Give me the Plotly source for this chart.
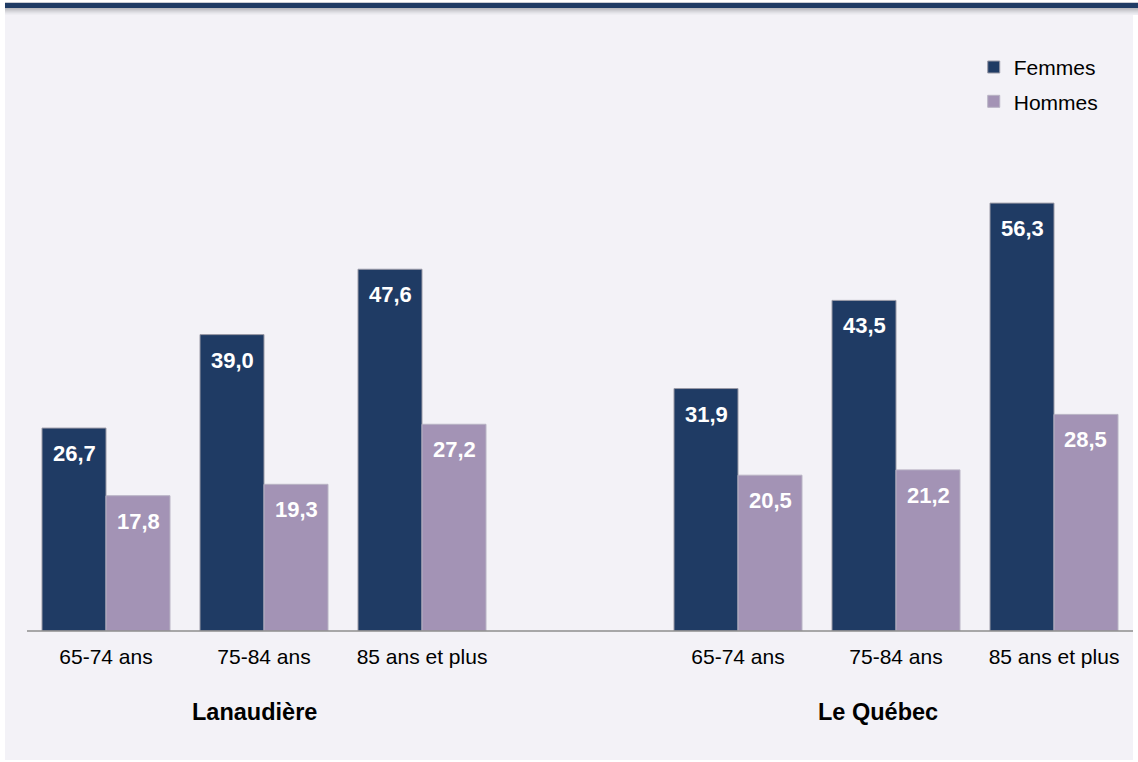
import plotly.graph_objects as go

# categories (middle slot left empty to separate the two regions)
categories = ["65-74 ans", "75-84 ans", "85 ans et plus", "",
              "65-74 ans", "75-84 ans", "85 ans et plus"]
femmes = [26.7, 39.0, 47.6, None, 31.9, 43.5, 56.3]
hommes = [17.8, 19.3, 27.2, None, 20.5, 21.2, 28.5]
regions = ["Lanaudière", "Le Québec"]

navy = "#1F3B64"
mauve = "#A393B5"
x = list(range(len(categories)))

fig = go.Figure()
fig.add_trace(go.Bar(x=x, y=femmes, name="Femmes", marker_color=navy,
                     marker_line=dict(color="#9a9aa6", width=1),
                     legendgroup="f"))
fig.add_trace(go.Bar(x=x, y=hommes, name="Hommes", marker_color=mauve,
                     marker_line=dict(color="#b8b3c4", width=1),
                     legendgroup="h"))

# value labels near the top of each bar
def fmt(v):
    return f"{v:.1f}".replace(".", ",")

off = 0.2025
for i, (f, h) in enumerate(zip(femmes, hommes)):
    if f is None:
        continue
    for xv, v in [(i - off, f), (i + off, h)]:
        fig.add_annotation(x=xv, y=v, text="<b>" + fmt(v) + "</b>", showarrow=False,
                           yanchor="top", yshift=-11,
                           font=dict(color="white", size=22, family="Liberation Sans"))

# region labels
for xr, name in zip([0.943, 4.886], regions):
    fig.add_annotation(x=xr, y=0, yref="paper", yanchor="top", yshift=-66,
                       text="<b>" + name + "</b>", showarrow=False,
                       font=dict(color="black", size=23.5, family="Liberation Sans"))

# panel background, top band and its shadow
px_y = 1 / 532
shapes = [
    dict(type="rect", xref="paper", yref="paper", x0=-0.0199, x1=1.0, y0=-0.2425, y1=1.16,
         fillcolor="#F3F2F7", line_width=0, layer="below"),
]
shadow = ["#b9b9be", "#c3c3c8", "#cdcdd2", "#d7d7dc", "#e0e0e5", "#e8e8ed", "#eeedf2"]
for k, c in enumerate(shadow):
    y_top = 1.1711 - k * px_y
    shapes.append(dict(type="rect", xref="paper", yref="paper", x0=-0.0199, x1=1.01,
                       y0=y_top - px_y, y1=y_top, fillcolor=c, line_width=0, layer="below"))
shapes.append(dict(type="rect", xref="paper", yref="paper", x0=-0.0199, x1=1.01,
                   y0=1.1711, y1=1.1805, fillcolor=navy, line_width=0, layer="below"))
shapes.append(dict(type="rect", xref="paper", yref="paper", x0=-0.0199, x1=1.01,
                   y0=1.1805, y1=1.1805 + px_y, fillcolor="#c9cbd3", line_width=0, layer="below"))
shapes.append(dict(type="line", xref="paper", yref="paper", x0=0, x1=1.0, y0=0, y1=0,
                   line=dict(color="#8e8e8e", width=1.5), layer="above"))

fig.update_layout(
    width=1138, height=762,
    margin=dict(l=27, r=5, t=99, b=131),
    paper_bgcolor="white", plot_bgcolor="rgba(0,0,0,0)",
    barmode="group", bargap=0.19, bargroupgap=0,
    font=dict(family="Liberation Sans", size=21, color="black"),
    shapes=shapes,
    showlegend=True,
    legend=dict(x=0.856, y=1.098, xanchor="left", yanchor="top",
                bgcolor="rgba(0,0,0,0)", traceorder="grouped",
                tracegroupgap=4, itemwidth=30,
                font=dict(size=21, family="Liberation Sans")),
    xaxis=dict(tickmode="array", tickvals=x, ticktext=categories,
               range=[-0.5, 6.5], showgrid=False, zeroline=False,
               showline=False, ticks="", ticklabelstandoff=11,
               tickfont=dict(size=21)),
    yaxis=dict(range=[0, 70], visible=False, showgrid=False),
)

fig.write_html("out.html", config={"displayModeBar": False},
               post_script="document.body.style.margin='0';")
